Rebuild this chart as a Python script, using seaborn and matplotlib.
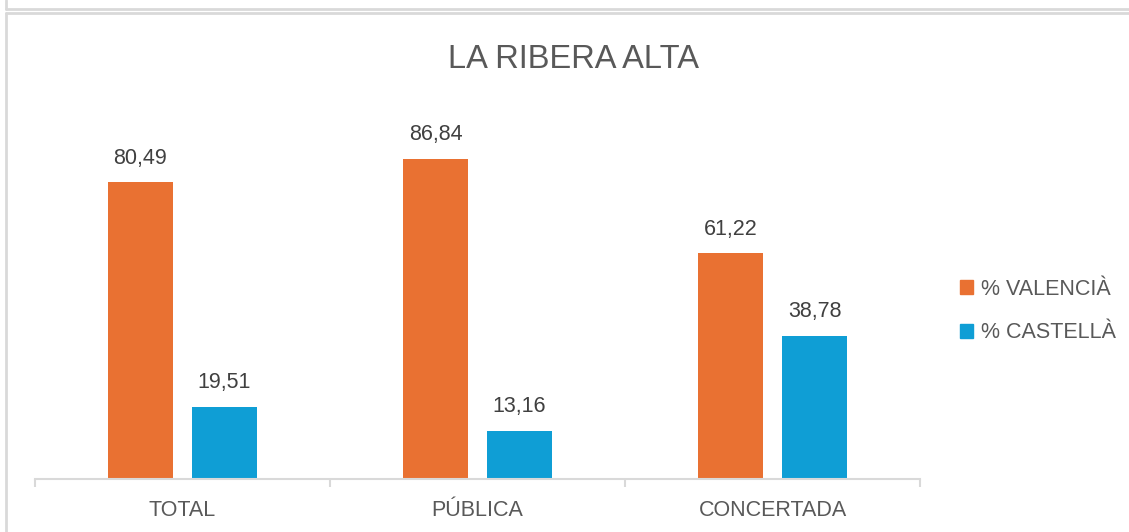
import matplotlib
matplotlib.use("Agg")
import matplotlib.pyplot as plt
from matplotlib.lines import Line2D
import seaborn as sns
import pandas as pd

categories = ["TOTAL", "PÚBLICA", "CONCERTADA"]
series_names = ["% VALENCIÀ", "% CASTELLÀ"]
valencia = [80.49, 86.84, 61.22]
castella = [19.51, 13.16, 38.78]
title = "LA RIBERA ALTA"
colors = ["#E97132", "#0F9ED5"]

df = pd.DataFrame({
    "cat": categories * 2,
    "serie": [series_names[0]] * 3 + [series_names[1]] * 3,
    "val": valencia + castella,
})

sns.set_theme(style="white")
plt.rcParams["font.family"] = ["Liberation Sans", "DejaVu Sans"]

W, H = 1129, 532
fig = plt.figure(figsize=(W / 100, H / 100), dpi=100)
ax = fig.add_axes([35 / W, 53 / H, 885 / W, 368.5 / H])

sns.barplot(data=df, x="cat", y="val", hue="serie", order=categories,
            hue_order=series_names, palette=colors, width=0.57, gap=0.23,
            saturation=1, ax=ax, legend=True, linewidth=0)

ax.set_xlim(-0.5, 2.5)
ax.set_ylim(0, 100)
ax.set_xlabel("")
ax.set_ylabel("")
ax.set_yticks([])
for s in ["top", "left", "right"]:
    ax.spines[s].set_visible(False)
ax.spines["bottom"].set_color("#d9d9d9")
ax.spines["bottom"].set_linewidth(1.5)
ax.set_xticks(range(len(categories)))
ax.set_xticklabels(categories, fontsize=15.5, color="#595959")
ax.set_xticks([-0.5, 0.5, 1.5, 2.5], minor=True)
ax.tick_params(axis="x", which="major", length=0, pad=15)
ax.tick_params(axis="x", which="minor", length=6, width=1.5, color="#d9d9d9",
               bottom=True)

for cont in ax.containers:
    ax.bar_label(cont, labels=[f"{v:.2f}".replace(".", ",") for v in cont.datavalues],
                 padding=10, fontsize=15.5, color="#404040")

leg = ax.get_legend()
if leg is not None:
    leg.remove()
handles = [plt.Rectangle((0, 0), 1, 1, color=c) for c in colors]
fig.legend(handles, series_names, loc="center left",
           bbox_to_anchor=(960 / W, 1 - 311 / H), frameon=False,
           fontsize=15.5, labelcolor="#595959", handlelength=0.62, handleheight=0.62,
           handletextpad=0.35, labelspacing=1.05, borderpad=0, borderaxespad=0)

fig.text(573 / W, 1 - 68 / H, title, ha="center", va="baseline",
         fontsize=23.5, color="#595959")

# panel borders
gray = "#d9d9d9"
def fl(xs, ys):
    fig.add_artist(Line2D([x / W for x in xs], [1 - y / H for y in ys],
                          color=gray, linewidth=2, transform=fig.transFigure))
fl([6, 6], [0, 8.5])
fl([6, W], [8.5, 8.5])
fl([6, W], [12.5, 12.5])
fl([6, 6], [12.5, H])

fig.savefig("out.png", dpi=100)
